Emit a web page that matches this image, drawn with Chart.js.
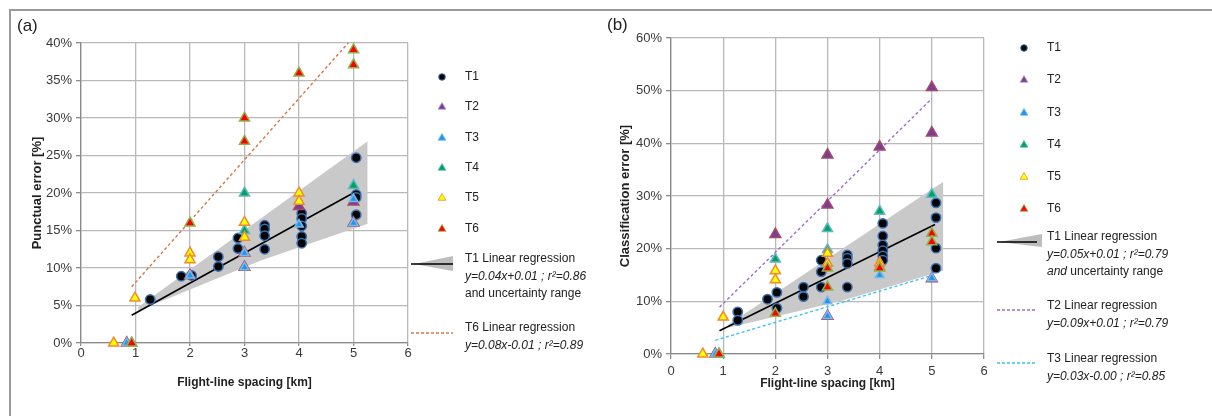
<!DOCTYPE html>
<html>
<head>
<meta charset="utf-8">
<script src="https://cdn.jsdelivr.net/npm/chart.js@4.4.0/dist/chart.umd.min.js"></script>
<style>
  body { margin: 0; background: #fff; font-family: "Liberation Sans", Arial, sans-serif; color: #222; }
  #fig { position: relative; width: 1212px; height: 416px; overflow: hidden; }
  .frame { position: absolute; left: 9px; top: 9px; width: 1300px; height: 500px; border-top: 2px solid #9a9a9a; border-left: 2px solid #9a9a9a; }
  canvas { position: absolute; top: 0; }
  .tag { position: absolute; font-size: 17px; }
  .lg { position: absolute; font-size: 12px; line-height: 17.5px; white-space: nowrap; }
  #marks { position: absolute; left: 0; top: 0; }
</style>
</head>
<body>
<div id="fig">
  <div class="frame"></div>
  <canvas id="chartA" width="600" height="416" style="left:0"></canvas>
  <canvas id="chartB" width="612" height="416" style="left:600px"></canvas>
  <svg id="marks" width="1212" height="416"></svg>
  <div class="tag" style="left:17px;top:16px">(a)</div>
  <div class="tag" style="left:607px;top:15px">(b)</div>
</div>
<script>
// x axis ticks (km)
const xTicks = [0, 1, 2, 3, 4, 5, 6];

// (a) Punctual error [%]
const aT1x = [1.27, 1.84, 2.03, 2.52, 2.52, 2.88, 2.88, 3.37, 3.37, 3.37, 3.37, 4.05, 4.05, 4.05, 4.05, 4.05, 5.05, 5.05, 5.05, 5.05];
const aT1y = [5.8, 8.9, 9.0, 11.5, 10.2, 14.0, 12.6, 15.7, 15.2, 14.3, 12.5, 17.3, 16.6, 15.6, 14.2, 13.3, 24.7, 19.8, 19.4, 17.1];
const aT2x = [0.84, 2.0, 3.0, 3.0, 4.0, 5.0, 5.0];
const aT2y = [0, 9.0, 12.0, 10.1, 18.2, 18.8, 16.0];
const aT3x = [0.84, 2.0, 3.0, 3.0, 4.0, 5.0, 5.0];
const aT3y = [0, 9.0, 12.0, 10.1, 15.8, 19.2, 16.0];
const aT4x = [0.93, 3.0, 3.0, 5.0];
const aT4y = [0, 20.0, 15.0, 21.0];
const aT5x = [0.6, 0.99, 2.0, 2.0, 3.0, 3.0, 4.0, 4.0];
const aT5y = [0, 6.0, 12.0, 11.1, 16.1, 14.1, 20.0, 18.9];
const aT6x = [0.93, 2.0, 3.0, 3.0, 4.0, 5.0, 5.0];
const aT6y = [0, 16.0, 30.0, 26.9, 36.0, 39.1, 37.1];
const aRegT1x = [0.93, 5.07];
const aRegT1y = [3.7, 20.3];
const aRegT6x = [0.93, 5.0];
const aRegT6y = [7.5, 40.8];
const aBandUpX = [1.05, 5.26];
const aBandUpY = [4.8, 26.9];
const aBandLoX = [1.05, 3.3, 5.26];
const aBandLoY = [4.3, 11.0, 15.9];

// (b) Classification error [%]
const bT1x = [1.28, 1.28, 1.85, 2.03, 2.03, 2.54, 2.54, 2.88, 2.88, 2.88, 3.38, 3.38, 3.38, 3.38, 4.06, 4.06, 4.06, 4.06, 4.06, 4.06, 5.08, 5.08, 5.08, 5.08];
const bT1y = [8.0, 6.4, 10.4, 11.7, 8.7, 12.7, 10.9, 17.8, 15.6, 12.7, 18.8, 18.2, 17.2, 12.7, 24.8, 22.4, 20.7, 19.6, 18.6, 17.8, 28.7, 25.9, 20.1, 16.3];
const bT2x = [0.85, 2.0, 3.0, 3.0, 3.0, 4.0, 5.0, 5.0, 5.0];
const bT2y = [0, 22.7, 37.8, 28.3, 7.2, 39.3, 50.6, 42.0, 14.3];
const bT3x = [0.85, 3.0, 3.0, 4.0, 5.0];
const bT3y = [0, 10.0, 7.2, 15.0, 14.4];
const bT4x = [0.92, 2.0, 3.0, 3.0, 4.0, 5.0];
const bT4y = [0, 18.0, 23.8, 19.8, 27.1, 30.3];
const bT5x = [0.61, 1.0, 2.0, 2.0, 3.0, 3.0, 4.0, 4.0];
const bT5y = [0, 7.0, 15.8, 14.1, 19.1, 17.2, 17.3, 16.6];
const bT6x = [0.92, 2.0, 3.0, 3.0, 4.0, 5.0, 5.0];
const bT6y = [0, 7.7, 16.3, 12.7, 16.3, 22.9, 21.3];
const bRegT1x = [0.93, 5.06];
const bRegT1y = [4.4, 24.6];
const bRegT2x = [0.93, 5.0];
const bRegT2y = [8.9, 48.5];
const bRegT3x = [0.85, 5.0];
const bRegT3y = [2.6, 14.9];
const bBandUpX = [1.1, 5.22];
const bBandUpY = [5.6, 32.7];
const bBandLoX = [1.1, 3.24, 5.22];
const bBandLoY = [5.0, 10.0, 15.8];

const seriesNames = ['T1', 'T2', 'T3', 'T4', 'T5', 'T6'];

const styles = {
  T1: { pointStyle: 'circle', pointRadius: 4.7, backgroundColor: '#050505', borderColor: '#3d72b4' },
  T2: { pointStyle: 'triangle', pointRadius: 6.2, backgroundColor: '#7a3d98', borderColor: '#a34a6a' },
  T3: { pointStyle: 'triangle', pointRadius: 5.0, backgroundColor: '#2196e8', borderColor: '#79b9ea' },
  T4: { pointStyle: 'triangle', pointRadius: 5.8, backgroundColor: '#00a35c', borderColor: '#5fb8c9' },
  T5: { pointStyle: 'triangle', pointRadius: 5.8, backgroundColor: '#ffff00', borderColor: '#f08a30' },
  T6: { pointStyle: 'triangle', pointRadius: 5.8, backgroundColor: '#ff0000', borderColor: '#8fb04a' }
};

Chart.defaults.font.family = '"Liberation Sans", Arial, sans-serif';

function pts(xs, ys) {
  return xs.map((x, i) => ({ x: x, y: ys[i] }));
}

function lineSet(xs, ys, color, dash) {
  return {
    data: pts(xs, ys), showLine: true, pointRadius: 0, borderColor: color,
    borderWidth: dash ? 1.4 : 1.6, borderDash: dash || [], fill: false, order: 7
  };
}

function buildPanel(id, p) {
  const datasets = [];
  // gray uncertainty range: upper edge filled down to lower edge
  datasets.push({ data: pts(p.bandUpX, p.bandUpY), showLine: true, pointRadius: 0, borderWidth: 0,
    borderColor: 'rgba(0,0,0,0)', backgroundColor: '#c9c9c9', fill: '+1', order: 20 });
  datasets.push({ data: pts(p.bandLoX, p.bandLoY), showLine: true, pointRadius: 0, borderWidth: 0,
    borderColor: 'rgba(0,0,0,0)', fill: false, order: 21 });
  p.lines.forEach(l => datasets.push(lineSet(l[0], l[1], l[2], l[3])));
  seriesNames.forEach((name, i) => {
    const s = styles[name];
    datasets.push({
      label: name, data: pts(p.series[i][0], p.series[i][1]), clip: false,
      pointStyle: s.pointStyle, pointRadius: s.pointRadius, pointBorderWidth: 1.5,
      pointBackgroundColor: s.backgroundColor, pointBorderColor: s.borderColor,
      order: 6 - i
    });
  });

  const gridColor = '#b9b9b9';
  const axisColor = '#8a8a8a';
  return new Chart(document.getElementById(id), {
    type: 'scatter',
    data: { datasets: datasets },
    options: {
      responsive: false, animation: false, devicePixelRatio: 1,
      layout: { padding: p.pad },
      plugins: { legend: { display: false }, tooltip: { enabled: false } },
      scales: {
        x: {
          type: 'linear', min: 0, max: 6,
          afterFit: s => { s.height = p.xH; },
          afterBuildTicks: s => { s.ticks = xTicks.map(v => ({ value: v })); },
          ticks: { padding: p.xTickPad, color: '#3a3a3a', font: { size: 13 } },
          grid: { color: gridColor, lineWidth: 1.3, tickLength: p.xTickLen, tickColor: axisColor },
          border: { color: axisColor, width: 1.3 },
          title: { display: true, text: 'Flight-line spacing [km]', color: '#222',
            font: { size: 12, weight: 'bold' }, padding: { top: 0, bottom: 3 } }
        },
        y: {
          min: 0, max: p.yMax,
          afterFit: s => { s.width = p.yW; },
          afterBuildTicks: s => { s.ticks = p.yTicks.map(v => ({ value: v })); },
          ticks: { padding: 4, color: '#3a3a3a', font: { size: 13 }, callback: v => v + '%' },
          grid: { color: gridColor, lineWidth: 1.3, tickLength: 5, tickColor: axisColor },
          border: { color: axisColor, width: 1.3 },
          title: { display: true, text: p.yTitle, color: '#222',
            font: { size: 13, weight: 'bold' }, padding: { top: 2, bottom: 0 } }
        }
      }
    }
  });
}

buildPanel('chartA', {
  pad: { left: 28, top: 43, right: 192, bottom: 23 }, xH: 50, yW: 53, xTickLen: 3, xTickPad: 0,
  yMax: 40, yTicks: [0, 5, 10, 15, 20, 25, 30, 35, 40], yTitle: 'Punctual error [%]',
  bandUpX: aBandUpX, bandUpY: aBandUpY, bandLoX: aBandLoX, bandLoY: aBandLoY,
  lines: [[aRegT1x, aRegT1y, '#000'], [aRegT6x, aRegT6y, '#d27a42', [3, 2.5]]],
  series: [[aT1x, aT1y], [aT2x, aT2y], [aT3x, aT3y], [aT4x, aT4y], [aT5x, aT5y], [aT6x, aT6y]]
});

buildPanel('chartB', {
  pad: { left: 16, top: 38, right: 228, bottom: 22 }, xH: 40, yW: 55, xTickLen: 5, xTickPad: 5,
  yMax: 60, yTicks: [0, 10, 20, 30, 40, 50, 60], yTitle: 'Classification error [%]',
  bandUpX: bBandUpX, bandUpY: bBandUpY, bandLoX: bBandLoX, bandLoY: bBandLoY,
  lines: [[bRegT1x, bRegT1y, '#000'], [bRegT2x, bRegT2y, '#9a6ccf', [3, 2.5]], [bRegT3x, bRegT3y, '#3cc3f0', [3, 2.5]]],
  series: [[bT1x, bT1y], [bT2x, bT2y], [bT3x, bT3y], [bT4x, bT4y], [bT5x, bT5y], [bT6x, bT6y]]
});

// ---- legends (markers in svg, text as html) ----
const svgNS = 'http://www.w3.org/2000/svg';
const marks = document.getElementById('marks');
const fig = document.getElementById('fig');

function svgEl(tag, attrs) {
  const el = document.createElementNS(svgNS, tag);
  Object.keys(attrs).forEach(k => el.setAttribute(k, attrs[k]));
  marks.appendChild(el);
}

function marker(name, x, y) {
  const s = styles[name];
  if (s.pointStyle === 'circle') {
    svgEl('circle', { cx: x, cy: y, r: 3.3, fill: s.backgroundColor, stroke: s.borderColor, 'stroke-width': 1 });
  } else {
    const r = 4.5;
    const p = [[x, y - r], [x + r * 0.866, y + r / 2], [x - r * 0.866, y + r / 2]];
    svgEl('polygon', { points: p.map(q => q.join(',')).join(' '), fill: s.backgroundColor,
      stroke: name === 'T2' ? '#b7a0c8' : s.borderColor, 'stroke-width': 0.8 });
  }
}

function text(x, top, html) {
  const d = document.createElement('div');
  d.className = 'lg';
  d.style.left = x + 'px';
  d.style.top = top + 'px';
  d.innerHTML = html;
  fig.appendChild(d);
}

function legend(L) {
  seriesNames.forEach((name, i) => {
    marker(name, L.mx, L.rows[i]);
    text(L.tx, L.rows[i] - 9, name);
  });
  // T1 regression with uncertainty wedge
  const w = L.wedge;
  svgEl('polygon', { points: `${w[0]},${w[1]} ${w[2]},${w[3]} ${w[2]},${w[4]}`, fill: '#bdbdbd' });
  svgEl('line', { x1: L.lx1, y1: w[1], x2: L.lx2, y2: w[1], stroke: '#000', 'stroke-width': 1.6 });
  L.blocks.forEach(b => {
    if (b.color) {
      svgEl('line', { x1: L.lx1, y1: b.ly, x2: L.lx2, y2: b.ly, stroke: b.color, 'stroke-width': 1.4, 'stroke-dasharray': '3 2' });
    }
    text(L.tx, b.top, b.html);
  });
}

legend({
  mx: 442, tx: 465, rows: [77, 107, 138, 168, 198, 229], lx1: 411, lx2: 453,
  wedge: [414, 264, 453, 256, 271],
  blocks: [
    { top: 250, html: 'T1 Linear regression<br><i>y=0.04x+0.01 ; r²=0.86</i><br>and uncertainty range' },
    { top: 319, ly: 333, color: '#d27a42', html: 'T6 Linear regression<br><i>y=0.08x-0.01 ; r²=0.89</i>' }
  ]
});

legend({
  mx: 1024, tx: 1047, rows: [48, 80, 113, 145, 177, 209], lx1: 997, lx2: 1037,
  wedge: [999, 242, 1042, 234, 247],
  blocks: [
    { top: 228, html: 'T1 Linear regression<br><i>y=0.05x+0.01 ; r²=0.79</i><br><i>and</i> uncertainty range' },
    { top: 297, ly: 310, color: '#9a6ccf', html: 'T2 Linear regression<br><i>y=0.09x+0.01 ; r²=0.79</i>' },
    { top: 350, ly: 363, color: '#3cc3f0', html: 'T3 Linear regression<br><i>y=0.03x-0.00 ; r²=0.85</i>' }
  ]
});
</script>
</body>
</html>
